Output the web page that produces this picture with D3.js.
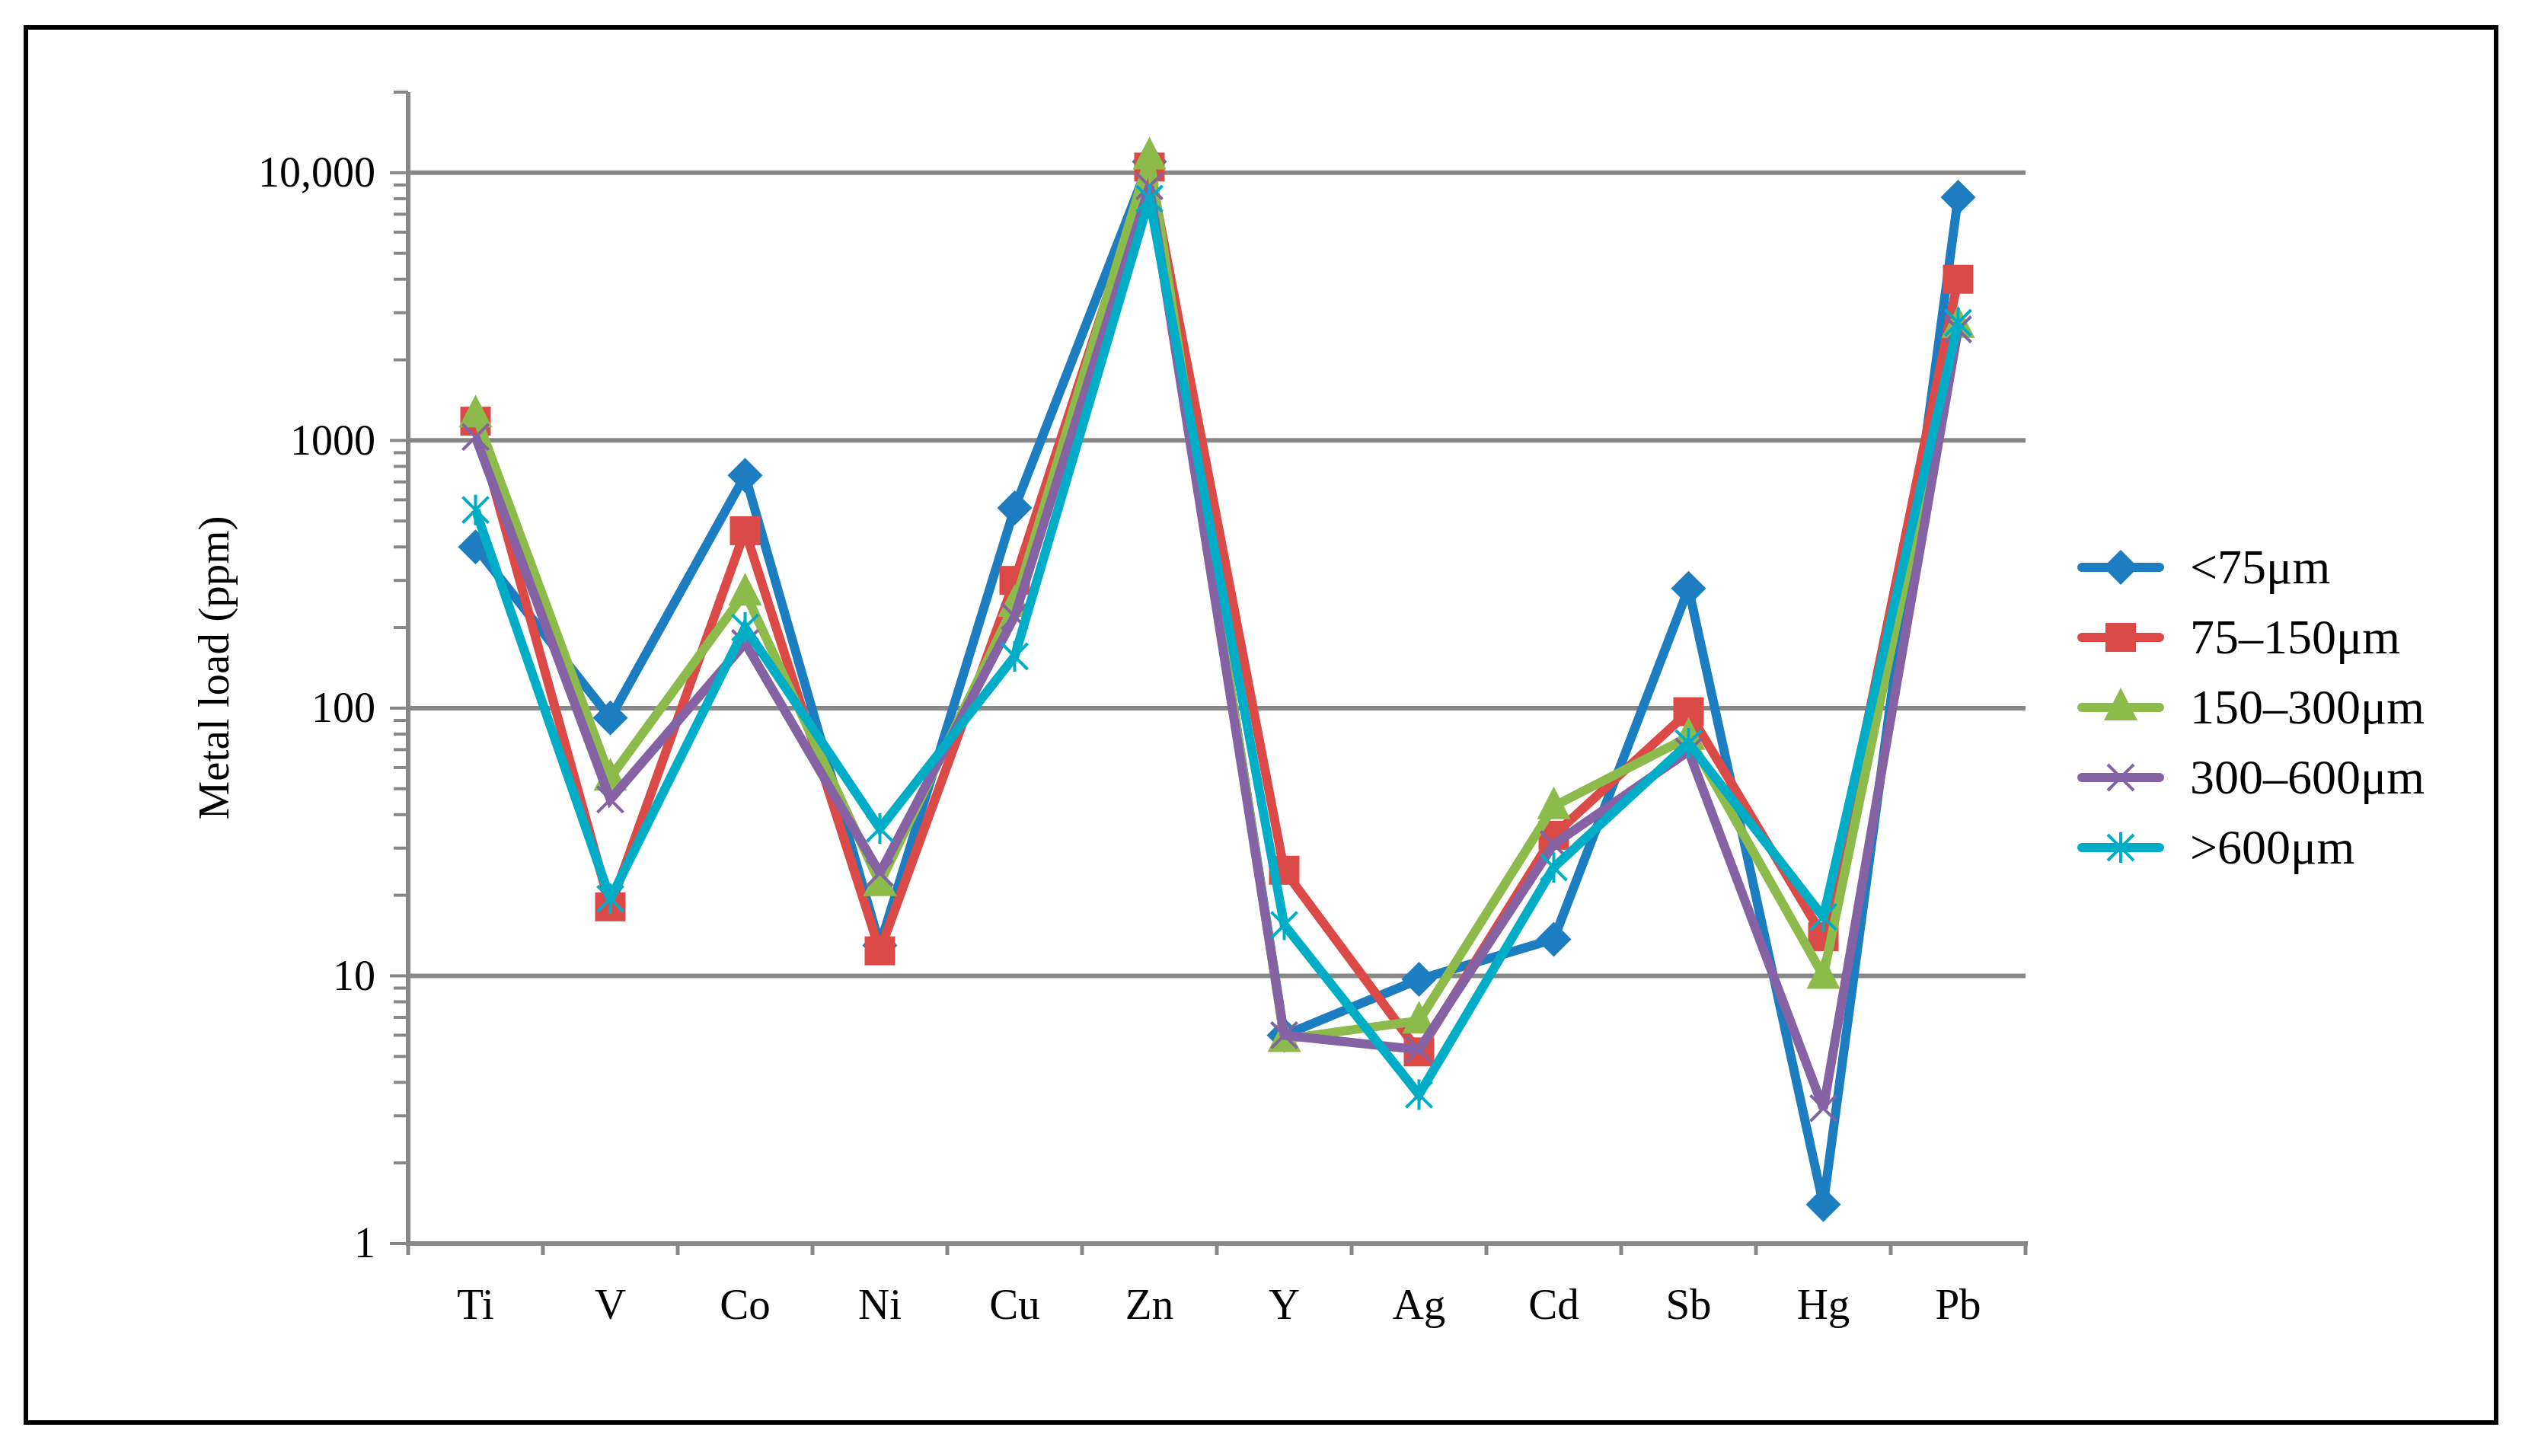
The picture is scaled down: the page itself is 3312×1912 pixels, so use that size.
<!DOCTYPE html>
<html>
<head>
<meta charset="utf-8">
<script src="https://cdn.jsdelivr.net/npm/d3@7"></script>
<style>
  body { margin: 0; background: #fff; }
  text { font-family: "Liberation Serif", "Times New Roman", serif; fill: #000; }
</style>
</head>
<body>
<svg id="chart" width="3312" height="1912"></svg>
<script>
// data
var elements = ["Ti", "V", "Co", "Ni", "Cu", "Zn", "Y", "Ag", "Cd", "Sb", "Hg", "Pb"];
var seriesNames = ["<75μm", "75–150μm", "150–300μm", "300–600μm", ">600μm"];
var lt75    = [400, 92, 740, 13, 560, 11000, 6.0, 9.7, 13.7, 280, 1.4, 8100];
var s75_150 = [1180, 18.1, 460, 12.4, 300, 10500, 24.8, 5.2, 33.5, 97, 14, 4000];
var s150_300 = [1250, 55, 270, 22.2, 245, 11500, 5.8, 6.8, 43, 78, 10, 2700];
var s300_600 = [1030, 45.6, 175, 24.2, 220, 8900, 6.0, 5.3, 31, 69, 3.2, 2600];
var gt600   = [550, 19.4, 200, 35.5, 156, 8000, 15.5, 3.6, 25.4, 74, 16.6, 2750];
var yMajorTicks = [1, 10, 100, 1000, 10000];

(function() {
    var seriesValues = [lt75, s75_150, s150_300, s300_600, gt600];
    var colors = ["#1c7dc1", "#dc4a47", "#8cbb4b", "#8462a4", "#00adc7"];
    var shapes = ["diamond", "square", "triangle", "cross", "star"];

    var svg = d3.select("#chart");
    var plotLeft = 536, plotRight = 2660, plotTop = 121, plotBottom = 1633;

    var x = d3.scaleBand().domain(elements).range([plotLeft, plotRight]);
    var y = d3.scaleLog().domain([1, 20000]).range([plotBottom, plotTop]);
    var fmt = d3.format(",");

    // outer frame
    svg.append("rect").attr("x", 34).attr("y", 36).attr("width", 3244).attr("height", 1832)
        .attr("fill", "none").attr("stroke", "#000").attr("stroke-width", 6);

    // gridlines
    svg.append("g").selectAll("line").data(yMajorTicks.slice(1)).enter().append("line")
        .attr("x1", plotLeft).attr("x2", plotRight)
        .attr("y1", function(d) { return y(d); }).attr("y2", function(d) { return y(d); })
        .attr("stroke", "#878787").attr("stroke-width", 6);

    // y axis with minor ticks
    var yTicks = y.ticks();
    var gy = svg.append("g");
    gy.selectAll("line").data(yTicks).enter().append("line")
        .attr("x1", function(d) { return yMajorTicks.indexOf(d) >= 0 ? plotLeft - 24 : plotLeft - 19; })
        .attr("x2", plotLeft)
        .attr("y1", function(d) { return y(d); }).attr("y2", function(d) { return y(d); })
        .attr("stroke", "#878787").attr("stroke-width", 4);
    gy.append("line").attr("x1", plotLeft).attr("x2", plotLeft).attr("y1", plotTop).attr("y2", plotBottom + 3)
        .attr("stroke", "#878787").attr("stroke-width", 6);
    gy.selectAll("text").data(yMajorTicks).enter().append("text")
        .attr("x", plotLeft - 43).attr("y", function(d) { return y(d); })
        .attr("dy", "0.33em").attr("text-anchor", "end").attr("font-size", 56)
        .text(function(d) { return d >= 10000 ? fmt(d) : d; });

    svg.append("text")
        .attr("transform", "translate(300," + (plotTop + plotBottom) / 2 + ") rotate(-90)")
        .attr("text-anchor", "middle").attr("font-size", 57)
        .text("Metal load (ppm)");

    // x axis
    var gx = svg.append("g");
    gx.append("line").attr("x1", plotLeft - 3).attr("x2", plotRight + 3).attr("y1", plotBottom).attr("y2", plotBottom)
        .attr("stroke", "#878787").attr("stroke-width", 6);
    var bounds = elements.map(function(d) { return x(d); }).concat([plotRight]);
    gx.selectAll("line.tk").data(bounds).enter().append("line").attr("class", "tk")
        .attr("x1", function(d) { return d; }).attr("x2", function(d) { return d; })
        .attr("y1", plotBottom).attr("y2", plotBottom + 15)
        .attr("stroke", "#878787").attr("stroke-width", 5);
    gx.selectAll("text").data(elements).enter().append("text")
        .attr("x", function(d) { return x(d) + x.bandwidth() / 2; })
        .attr("y", 1732).attr("text-anchor", "middle").attr("font-size", 57)
        .text(function(d) { return d; });

    function drawMarker(g, shape, color, cx, cy) {
        if (shape == "diamond") {
            g.append("path").attr("d", "M" + cx + "," + (cy - 23) + "L" + (cx + 23) + "," + cy + "L" + cx + "," + (cy + 23) + "L" + (cx - 23) + "," + cy + "Z")
                .attr("fill", color);
        } else if (shape == "square") {
            g.append("rect").attr("x", cx - 20).attr("y", cy - 19).attr("width", 40).attr("height", 38).attr("fill", color);
        } else if (shape == "triangle") {
            g.append("path").attr("d", "M" + cx + "," + (cy - 26) + "L" + (cx + 22) + "," + (cy + 17) + "L" + (cx - 22) + "," + (cy + 17) + "Z")
                .attr("fill", color);
        } else if (shape == "cross") {
            g.append("path").attr("d", "M" + (cx - 17) + "," + (cy - 17) + "L" + (cx + 17) + "," + (cy + 17) + "M" + (cx + 17) + "," + (cy - 17) + "L" + (cx - 17) + "," + (cy + 17))
                .attr("stroke", color).attr("stroke-width", 4).attr("fill", "none");
        } else {
            g.append("path").attr("d", "M" + (cx - 17) + "," + (cy - 17) + "L" + (cx + 17) + "," + (cy + 17) + "M" + (cx + 17) + "," + (cy - 17) + "L" + (cx - 17) + "," + (cy + 17) + "M" + cx + "," + (cy - 20) + "L" + cx + "," + (cy + 20))
                .attr("stroke", color).attr("stroke-width", 4).attr("fill", "none");
        }
    }

    // series
    var line = d3.line()
        .x(function(d, i) { return x(elements[i]) + x.bandwidth() / 2; })
        .y(function(d) { return y(d); });

    seriesValues.forEach(function(vals, s) {
        var g = svg.append("g");
        g.append("path").attr("d", line(vals)).attr("fill", "none")
            .attr("stroke", colors[s]).attr("stroke-width", 12).attr("stroke-linejoin", "miter").attr("stroke-miterlimit", 2);
        vals.forEach(function(v, i) {
            drawMarker(g, shapes[s], colors[s], x(elements[i]) + x.bandwidth() / 2, y(v));
        });
    });

    // legend
    var lg = svg.append("g");
    seriesNames.forEach(function(name, s) {
        var ly = 745 + s * 92;
        lg.append("line").attr("x1", 2734).attr("x2", 2836).attr("y1", ly).attr("y2", ly)
            .attr("stroke", colors[s]).attr("stroke-width", 12).attr("stroke-linecap", "round");
        drawMarker(lg, shapes[s], colors[s], 2785, ly);
        lg.append("text").attr("x", 2876).attr("y", ly).attr("dy", "0.33em")
            .attr("font-size", 64).text(name);
    });
}());
</script>
</body>
</html>
